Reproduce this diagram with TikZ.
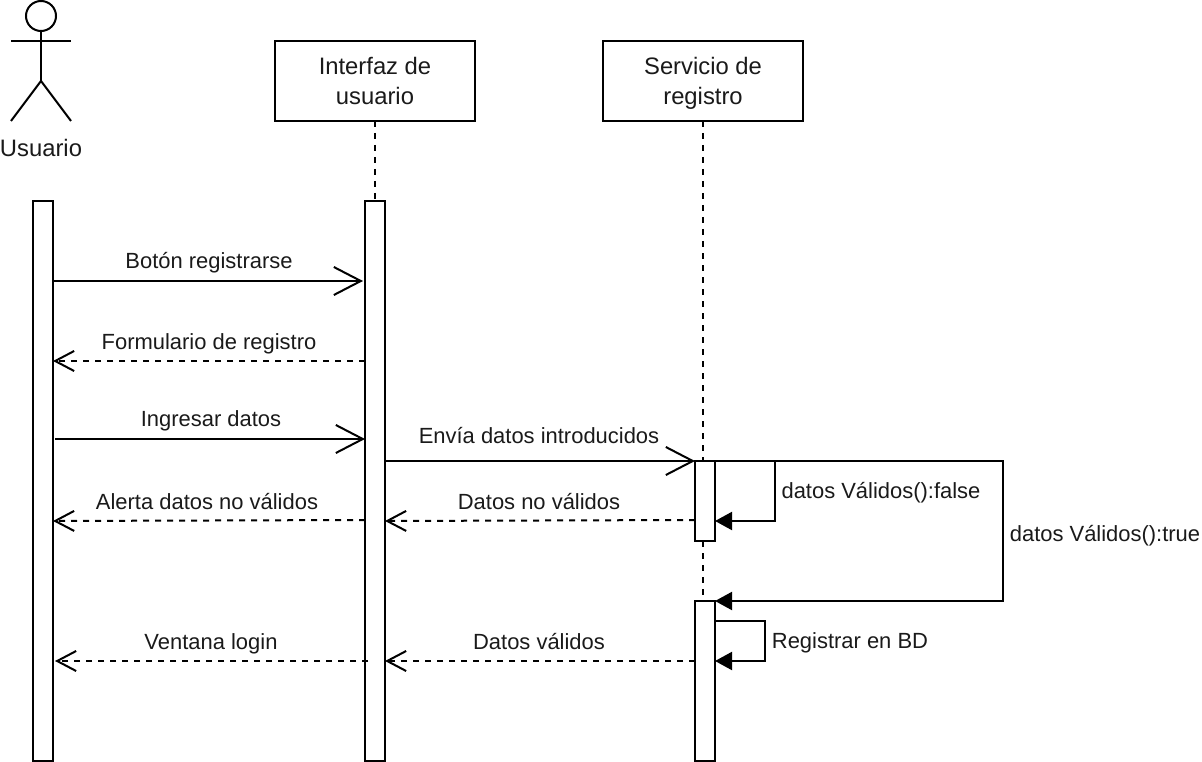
\documentclass[tikz,border=0pt]{standalone}
\usepackage{fontspec}
\setmainfont{Liberation Sans}
\usetikzlibrary{arrows.meta}
\definecolor{inkc}{HTML}{000000}
\definecolor{txtc}{HTML}{1A1A1A}
\newcommand{\hdrup}{\rule{0pt}{27pt}}
\tikzset{
  every node/.style={text=txtc},
  lnk/.style={line width=2pt,draw=inkc},
  headbox/.style={draw=inkc,line width=2pt,fill=white,minimum width=200pt,minimum height=80pt,inner sep=0pt,outer sep=0pt,align=center,font=\fontsize{23.8}{30}\selectfont},
  actbar/.style={draw=inkc,line width=2pt,fill=white,minimum width=20pt,inner sep=0pt,outer sep=0pt},
  lifeline/.style={lnk,dash pattern=on 6pt off 6pt},
  openmsg/.style={lnk,-{Straight Barb[length=27pt,width=28pt,line width=2pt]}},
  retmsg/.style={lnk,dash pattern=on 6pt off 6pt,-{Straight Barb[length=19pt,width=20pt,line width=2pt]}},
  selfmsg/.style={lnk,-{Triangle[length=17pt,width=18pt]}},
  msgtxt/.style={anchor=base,inner sep=0pt,font=\fontsize{21.95}{26}\selectfont},
  actortxt/.style={anchor=base,inner sep=0pt,font=\fontsize{23.8}{28}\selectfont},
}
\begin{document}
\begin{tikzpicture}[x=1pt,y=-1pt]
\useasboundingbox[fill=white] (0,0) rectangle (1202,762);
% actor
\node[circle,draw=inkc,line width=2pt,minimum size=30pt,inner sep=0pt,outer sep=0pt] (head) at (41,16) {};
\coordinate (hip) at (41,81);
\coordinate (armL) at (11,41);
\coordinate (armR) at (71,41);
\coordinate (legL) at (11,121);
\coordinate (legR) at (71,121);
\draw[lnk] (head.south) -- (hip);
\draw[lnk] (armL) -- (armR);
\draw[lnk] (legL) -- (hip) -- (legR);
\node[actortxt] (usuario) at (41,156.5) {Usuario};
% heads
\node[headbox] (ui) at (375,81) {\hdrup Interfaz de\strut\\usuario\strut};
\node[headbox] (srv) at (703,81) {\hdrup Servicio de\strut\\registro\strut};
% activation bars
\node[actbar,minimum height=560pt] (aU) at (43,481) {};
\node[actbar,minimum height=560pt] (aI) at (375,481) {};
\node[actbar,minimum height=80pt] (aS1) at (705,501) {};
\node[actbar,minimum height=160pt] (aS2) at (705,681) {};
% lifelines
\coordinate (l1) at (703,461);
\coordinate (l2) at (703,541);
\coordinate (l3) at (703,601);
\draw[lifeline] (ui.south) -- (aI.north);
\draw[lifeline] (srv.south) -- (l1);
\draw[lifeline] (l2) -- (l3);
% messages
\draw[openmsg] (aU.east |- 0,281) -- (363,281);
\draw[retmsg] (aI.west |- 0,361) -- (aU.east |- 0,361);
\draw[openmsg] (55,439) -- (aI.west |- 0,439);
\draw[openmsg] (aI.east |- 0,461) -- (aS1.north west);
\draw[retmsg] (aI.west |- 0,520) -- (aU.east |- 0,521);
\draw[retmsg] (aS1.west |- 0,520) -- (aI.east |- 0,521);
\draw[retmsg] (368,661) -- (55,661);
\draw[retmsg] (aS2.west |- 0,661) -- (aI.east |- 0,661);
% self messages
\coordinate (f1) at (775,461);
\coordinate (f2) at (775,521);
\coordinate (t1) at (1003,461);
\coordinate (t2) at (1003,601);
\coordinate (r1) at (765,621);
\coordinate (r2) at (765,661);
\draw[selfmsg] (aS1.north east) -- (f1) -- (f2) -- (aS1.east |- f2);
\draw[selfmsg] (aS1.north east) -- (t1) -- (t2) -- (aS2.north east);
\draw[selfmsg] (aS2.east |- r1) -- (r1) -- (r2) -- (aS2.east |- r2);
% labels
\node[msgtxt] (t1a) at (209,268) {Botón registrarse};
\node[msgtxt] (t2a) at (209,349) {Formulario de registro};
\node[msgtxt] (t3a) at (211,426) {Ingresar datos};
\node[msgtxt] (t4a) at (539,443) {Envía datos introducidos};
\node[msgtxt] (t5a) at (207,509) {Alerta datos no válidos};
\node[msgtxt] (t6a) at (539,509) {Datos no válidos};
\node[msgtxt] (t7a) at (211,649) {Ventana login};
\node[msgtxt] (t8a) at (539,649) {Datos válidos};
\node[msgtxt] (t9a) at (881,498) {datos Válidos():false};
\node[msgtxt] (t10a) at (1105,541) {datos Válidos():true};
\node[msgtxt] (t11a) at (850,648) {Registrar en BD};
\end{tikzpicture}
\end{document}
